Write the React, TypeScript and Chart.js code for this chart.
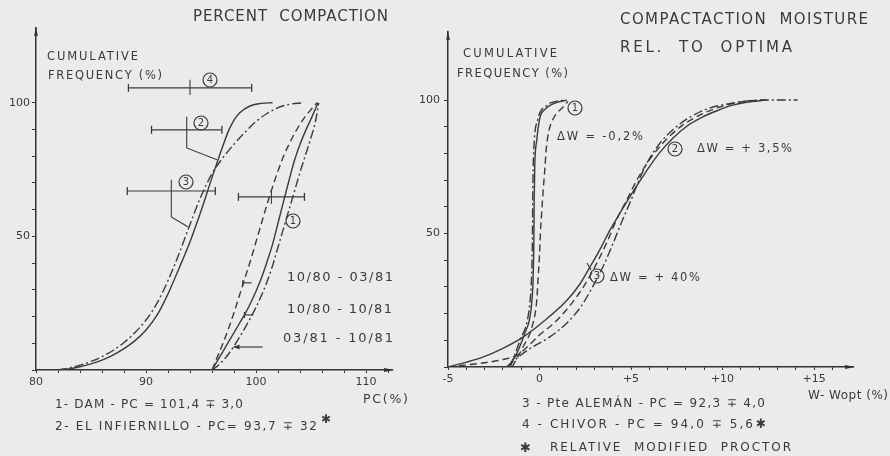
import { useEffect, useRef } from 'react';
import { Chart, registerables } from 'chart.js';
Chart.register(...registerables);

type Pt = [number, number];

// ================= LEFT PANEL: percent compaction PC (%) vs cumulative frequency (%)
const pcTickValues = [80, 82, 84, 86, 88, 90, 92, 94, 96, 98, 100, 102, 104, 106, 108, 110, 112];
const pcLabelled = [80, 90, 100, 110];
const freqTickValues = [0, 10, 20, 30, 40, 50, 60, 70, 80, 90, 100];
const freqLabelled = [50, 100];

// sites 2-4 group
const sitesSolid: Pt[] = [
  [82.0, 0], [83.0, 0.4], [84.0, 1.2], [85.0, 2.3], [86.0, 3.7], [87.0, 5.6], [88.0, 8.0],
  [89.0, 11.0], [90.0, 15.0], [91.0, 20.5], [92.0, 28.5], [93.0, 38], [94.0, 48], [95.0, 59.5],
  [96.0, 72], [97.0, 84], [97.5, 89.5], [98.0, 93.5], [98.5, 96.2], [99.5, 98.9], [100.5, 99.8],
  [101.5, 100],
];
const sitesDashDot: Pt[] = [
  [82.0, 0], [83.0, 0.8], [84.0, 1.8], [85.0, 3.2], [86.0, 5.0], [87.0, 7.3], [88.0, 10.3],
  [89.0, 14.0], [90.0, 18.7], [91.0, 25.0], [92.0, 33.5], [93.0, 43.5], [94.0, 54.5], [95.0, 65],
  [96.0, 73.5], [97.0, 79.5], [98.0, 84.5], [99.0, 89], [100.0, 93], [101.0, 96], [102.0, 98.2],
  [103.0, 99.4], [104.3, 100],
];
// dam, three periods
const dam_1080_0381: Pt[] = [
  [96.0, 0], [96.5, 5], [97.0, 10], [97.5, 15.5], [98.0, 21.5], [98.5, 28], [99.0, 34.5],
  [99.5, 41], [100.0, 48], [100.5, 55], [101.0, 62], [101.5, 68.5], [102.0, 74.5], [102.5, 80],
  [103.0, 84.5], [103.5, 88.5], [104.0, 92], [104.5, 95], [105.0, 97.5], [105.55, 100],
];
const dam_1080_1081: Pt[] = [
  [96.0, 0], [96.5, 3.5], [97.0, 7], [97.5, 10.5], [98.0, 14], [98.5, 17.5], [99.0, 21],
  [99.5, 25], [100.0, 29.5], [100.5, 34.5], [101.0, 40.5], [101.5, 47], [102.0, 55], [102.5, 63],
  [103.0, 71], [103.5, 78.5], [104.0, 84.5], [104.5, 89.5], [105.0, 94], [105.64, 100],
];
const dam_0381_1081: Pt[] = [
  [96.0, 0], [96.5, 1.5], [97.0, 3.5], [97.5, 6], [98.0, 9], [98.5, 12.3], [99.0, 15.8],
  [99.5, 19.5], [100.0, 23.5], [100.5, 28], [101.0, 33], [101.5, 39], [102.0, 46], [102.5, 53],
  [103.0, 60], [103.5, 67], [104.0, 74], [104.5, 80.5], [105.0, 87], [105.4, 93], [105.7, 100],
];

const siteNumbers = ['1', '2', '3', '4'];
const pcMean = [101.4, 93.7, 92.3, 94.0];
const pcStd = [3.0, 3.2, 4.0, 5.6];
const periodLabels = ['10/80 - 03/81', '10/80 - 10/81', '03/81 - 10/81'];

// ================= RIGHT PANEL: W - Wopt (%) vs cumulative frequency (%)
const dwTickValues = [-5, -4, -3, -2, -1, 0, 1, 2, 3, 4, 5, 6, 7, 8, 9, 10, 11, 12, 13, 14, 15, 16];
const dwLabelled = [-5, 0, 5, 10, 15];

const steepSolid: Pt[] = [
  [-1.72, 0], [-1.23, 5.2], [-0.8, 12.7], [-0.52, 18.7], [-0.4, 26], [-0.35, 32.6], [-0.32, 42],
  [-0.305, 50], [-0.29, 62.5], [-0.26, 75], [-0.15, 85], [0.03, 93.6], [0.3, 96.5], [0.57, 98],
  [1.0, 99.2], [1.5, 100],
];
const steepDashed: Pt[] = [
  [-1.5, 0], [-0.9, 7.5], [-0.35, 16.5], [-0.15, 25], [-0.08, 33], [0.0, 42], [0.05, 50],
  [0.12, 58], [0.2, 66], [0.3, 75], [0.36, 81], [0.5, 88], [0.75, 93], [1.3, 97.5], [1.55, 99.5],
];
const steepDashDot: Pt[] = [
  [-1.6, 0], [-1.07, 10], [-0.6, 20], [-0.46, 30], [-0.41, 39], [-0.385, 50], [-0.365, 66],
  [-0.33, 78.6], [-0.1, 92.5], [0.4, 98], [0.9, 99.5], [1.4, 100],
];
const broadSolid: Pt[] = [
  [-5, 0], [-4, 1.8], [-3.1, 3.7], [-2, 7], [-0.9, 11.2], [0.3, 17.5], [1.5, 25], [2.2, 31],
  [2.76, 37.5], [3.3, 44], [3.85, 51.3], [4.4, 57.7], [5.0, 64.5], [5.5, 69.8], [6.0, 75.0],
  [6.6, 80.6], [7.3, 85.8], [8.05, 90.2], [8.9, 93.6], [9.7, 96], [10.5, 98], [11.3, 99.2], [12.4, 100],
];
const broadDashed: Pt[] = [
  [-5, 0], [-4, 0.8], [-3, 1.6], [-2, 2.8], [-1.2, 4.5], [-0.6, 8], [0.0, 12], [0.8, 16.5],
  [1.6, 22.5], [2.4, 30], [3.1, 38.5], [3.7, 47], [4.2, 55], [4.8, 63], [5.4, 71], [6.1, 78.5],
  [6.9, 85], [7.8, 90.5], [8.8, 94.5], [9.8, 97.3], [11, 99.3], [12.2, 100],
];
const broadDashDot: Pt[] = [
  [-1.8, 0], [-1.2, 3.5], [-0.5, 7], [0.5, 11], [1.5, 16.5], [2.3, 23], [2.9, 30], [3.5, 38],
  [4.0, 46], [4.5, 54.5], [5.0, 62.5], [5.5, 71], [6.0, 78], [6.6, 84], [7.3, 89], [8.2, 93.5],
  [9.2, 96.8], [10.5, 98.8], [12, 100], [14.1, 100],
];

// ================= layout / styling (not data)
const FONT = '"DejaVu Sans", sans-serif';
const INK = '#3a3a3a';
const AXIS = '#333333';
const BG = '#ebebeb';
const DASHED = [7, 4];
const DASHDOT = [9, 3, 2, 3];

const rangeBarLevel = [64.8, 89.9, 67.0, 105.6];
const rangeTick: Pt[] = [[67.4, 62.2], [94.8, 83.1], [71.2, 57.3], [108.6, 102.9]];
const leaderEnds: (Pt | null)[] = [null, [96.45, 78.7], [93.8, 53.6], null];
const periodMarkLevel = [32.6, 20.6, 8.6];
const periodMarkSpan: Pt[] = [[98.8, 99.6], [98.95, 99.75], [97.95, 100.6]];

type TextItem = { t: string; x: number; y: number; w: number; s: number };
type Circ = { n: string; x: number; y: number };

const leftTexts: TextItem[] = [
  { t: 'PERCENT  COMPACTION', x: 193, y: 16, w: 195, s: 15 },
  { t: 'CUMULATIVE', x: 47, y: 56, w: 91, s: 11.5 },
  { t: 'FREQUENCY (%)', x: 48, y: 74.5, w: 114, s: 11.5 },
  { t: 'PC(%)', x: 363, y: 398, w: 45, s: 12.5 },
  { t: '1- DAM - PC = 101,4 ∓ 3,0', x: 55, y: 404, w: 188, s: 12 },
  { t: '2- EL INFIERNILLO - PC= 93,7 ∓ 32', x: 55, y: 426, w: 262, s: 12 },
  { t: '✱', x: 321, y: 419, w: 10, s: 12 },
  { t: periodLabels[0], x: 287, y: 276, w: 106, s: 13 },
  { t: periodLabels[1], x: 287, y: 308, w: 105, s: 13 },
  { t: periodLabels[2], x: 283, y: 337, w: 110, s: 13 },
];
const leftCircles: Circ[] = [
  { n: siteNumbers[0], x: 293, y: 221 },
  { n: siteNumbers[1], x: 201, y: 123 },
  { n: siteNumbers[2], x: 186, y: 182 },
  { n: siteNumbers[3], x: 210, y: 80 },
];
const rightTexts: TextItem[] = [
  { t: 'COMPACTACTION  MOISTURE', x: 620, y: 18.5, w: 248, s: 15 },
  { t: 'REL.  TO  OPTIMA', x: 620, y: 47, w: 172, s: 15 },
  { t: 'CUMULATIVE', x: 463, y: 53, w: 94, s: 11.5 },
  { t: 'FREQUENCY (%)', x: 457, y: 73, w: 111, s: 11.5 },
  { t: 'W- Wopt (%)', x: 808, y: 395, w: 80, s: 12 },
  { t: '3 - Pte ALEMÁN - PC = 92,3 ∓ 4,0', x: 522, y: 403, w: 243, s: 12 },
  { t: '4 - CHIVOR - PC = 94,0 ∓ 5,6', x: 522, y: 424, w: 231, s: 12 },
  { t: '✱', x: 756, y: 423, w: 10, s: 13 },
  { t: '✱', x: 520, y: 447, w: 11, s: 13 },
  { t: 'RELATIVE  MODIFIED  PROCTOR', x: 550, y: 447, w: 241, s: 12 },
  { t: 'ΔW = -0,2%', x: 557, y: 136, w: 86, s: 11.5 },
  { t: 'ΔW = + 3,5%', x: 697, y: 148, w: 95, s: 11.5 },
  { t: 'ΔW = + 40%', x: 610, y: 277, w: 90, s: 11.5 },
];
const rightCircles: Circ[] = [
  { n: '1', x: 575, y: 108 },
  { n: '2', x: 675, y: 149 },
  { n: '3', x: 597, y: 276 },
];

function drawText(ctx: CanvasRenderingContext2D, it: TextItem) {
  ctx.save();
  ctx.fillStyle = INK;
  ctx.font = `${it.s}px ${FONT}`;
  (ctx as any).letterSpacing = '0px';
  ctx.textAlign = 'left';
  ctx.textBaseline = 'alphabetic';
  const w = ctx.measureText(it.t).width;
  const n = Array.from(it.t).length;
  const base = it.y + it.s * 0.365;
  if (w >= it.w || n < 2) {
    ctx.translate(it.x, base);
    ctx.scale(it.w / w, 1);
    ctx.fillText(it.t, 0, 0);
  } else {
    (ctx as any).letterSpacing = `${(it.w - w) / (n - 1)}px`;
    ctx.fillText(it.t, it.x, base);
  }
  ctx.restore();
}

function drawCircle(ctx: CanvasRenderingContext2D, c: Circ) {
  ctx.save();
  ctx.strokeStyle = INK;
  ctx.lineWidth = 1.2;
  ctx.beginPath();
  ctx.arc(c.x, c.y, 7, 0, Math.PI * 2);
  ctx.stroke();
  ctx.fillStyle = INK;
  ctx.font = `10px ${FONT}`;
  ctx.textAlign = 'center';
  ctx.textBaseline = 'middle';
  ctx.fillText(c.n, c.x, c.y + 0.5);
  ctx.restore();
}

function axisArrows(ctx: CanvasRenderingContext2D, a: { left: number; right: number; top: number; bottom: number }) {
  ctx.save();
  ctx.fillStyle = AXIS;
  ctx.beginPath();
  ctx.moveTo(a.left, a.top - 2);
  ctx.lineTo(a.left - 1.8, a.top + 8);
  ctx.lineTo(a.left + 1.8, a.top + 8);
  ctx.closePath();
  ctx.fill();
  ctx.beginPath();
  ctx.moveTo(a.right + 2, a.bottom);
  ctx.lineTo(a.right - 8, a.bottom - 2);
  ctx.lineTo(a.right - 8, a.bottom + 2);
  ctx.closePath();
  ctx.fill();
  ctx.restore();
}

const toXY = (pts: Pt[]) => pts.map(([x, y]) => ({ x, y }));

function curve(pts: Pt[], dash: number[]) {
  return {
    data: toXY(pts),
    showLine: true,
    borderColor: INK,
    borderWidth: 1.4,
    borderDash: dash,
    pointRadius: 0,
    cubicInterpolationMode: 'monotone',
  };
}

function xScale(min: number, max: number, tickValues: number[], labelled: number[], fmt: (v: number) => string) {
  return {
    type: 'linear' as const,
    min,
    max,
    afterBuildTicks: (s: any) => {
      s.ticks = tickValues.map((v) => ({ value: v }));
    },
    afterFit: (s: any) => {
      s.height = 20;
    },
    ticks: {
      autoSkip: false,
      maxRotation: 0,
      padding: 3,
      color: INK,
      font: { family: FONT, size: 11 },
      callback: (v: any) => (labelled.includes(Number(v)) ? fmt(Number(v)) : ''),
    },
    grid: { display: true, drawOnChartArea: false, drawTicks: true, tickLength: 3, color: AXIS, lineWidth: 1 },
    border: { display: true, color: AXIS, width: 1.5 },
  };
}

function yScale(max: number, pad: number) {
  return {
    type: 'linear' as const,
    min: 0,
    max,
    afterBuildTicks: (s: any) => {
      s.ticks = freqTickValues.map((v) => ({ value: v }));
    },
    afterFit: (s: any) => {
      s.width = 36;
    },
    ticks: {
      autoSkip: false,
      padding: pad,
      color: INK,
      font: { family: FONT, size: 11 },
      callback: (v: any) => (freqLabelled.includes(Number(v)) ? String(v) : ''),
    },
    grid: { display: true, drawOnChartArea: false, drawTicks: true, tickLength: 4, color: AXIS, lineWidth: 1 },
    border: { display: true, color: AXIS, width: 1.5 },
  };
}

export default function App() {
  const leftRef = useRef<HTMLCanvasElement>(null);
  const rightRef = useRef<HTMLCanvasElement>(null);

  useEffect(() => {
    document.body.style.margin = '0';

    // ---- left chart datasets
    const leftSets: any[] = [
      curve(sitesSolid, []),
      curve(sitesDashDot, DASHDOT),
      curve(dam_1080_0381, DASHED),
      curve(dam_1080_1081, []),
      curve(dam_0381_1081, DASHDOT),
    ];
    pcMean.forEach((m, i) => {
      leftSets.push({
        data: [
          { x: m - pcStd[i], y: rangeBarLevel[i] },
          { x: m + pcStd[i], y: rangeBarLevel[i] },
        ],
        showLine: true,
        borderColor: INK,
        borderWidth: 1.2,
        pointStyle: 'line',
        rotation: 90,
        pointRadius: 4,
        pointBorderWidth: 1.3,
        pointBorderColor: INK,
      });
      const lead: { x: number; y: number }[] = [
        { x: m, y: rangeTick[i][0] },
        { x: m, y: rangeTick[i][1] },
      ];
      const end = leaderEnds[i];
      if (end) lead.push({ x: end[0], y: end[1] });
      leftSets.push({
        data: lead,
        showLine: true,
        borderColor: INK,
        borderWidth: 1.1,
        pointRadius: 0,
        tension: 0,
      });
    });

    const leftPlugin = {
      id: 'leftDeco',
      afterDraw(chart: any) {
        const ctx = chart.ctx as CanvasRenderingContext2D;
        const xs = chart.scales.x;
        const ys = chart.scales.y;
        axisArrows(ctx, chart.chartArea);
        // period leader marks
        ctx.save();
        ctx.strokeStyle = INK;
        ctx.fillStyle = INK;
        ctx.lineWidth = 1.2;
        periodMarkLevel.forEach((lv, i) => {
          const y = ys.getPixelForValue(lv);
          const x0 = xs.getPixelForValue(periodMarkSpan[i][0]);
          const x1 = xs.getPixelForValue(periodMarkSpan[i][1]);
          ctx.beginPath();
          ctx.moveTo(x0, y);
          ctx.lineTo(x1, y);
          ctx.stroke();
          if (i < 2) {
            ctx.beginPath();
            ctx.moveTo(x0, y - 3);
            ctx.lineTo(x0, y + 3);
            ctx.stroke();
          } else {
            ctx.beginPath();
            ctx.moveTo(x0, y);
            ctx.lineTo(x0 + 6, y - 2.5);
            ctx.lineTo(x0 + 6, y + 2.5);
            ctx.closePath();
            ctx.fill();
          }
        });
        ctx.restore();
        leftTexts.forEach((t) => drawText(ctx, t));
        leftCircles.forEach((c) => drawCircle(ctx, c));
      },
    };

    const left = new Chart(leftRef.current!, {
      type: 'scatter',
      data: { datasets: leftSets },
      options: {
        animation: false,
        responsive: false,
        devicePixelRatio: 1,
        layout: { padding: { left: 0, right: 498, top: 28, bottom: 66 } },
        plugins: { legend: { display: false }, tooltip: { enabled: false } },
        scales: {
          x: xScale(80, 112.36, pcTickValues, pcLabelled, (v) => String(v)),
          y: yScale(128, 2),
        },
      } as any,
      plugins: [leftPlugin],
    });

    // ---- right chart
    const rightSets: any[] = [
      curve(steepSolid, []),
      curve(steepDashed, DASHED),
      curve(steepDashDot, DASHDOT),
      curve(broadSolid, []),
      curve(broadDashed, DASHED),
      curve(broadDashDot, DASHDOT),
    ];
    const rightPlugin = {
      id: 'rightDeco',
      afterDraw(chart: any) {
        const ctx = chart.ctx as CanvasRenderingContext2D;
        axisArrows(ctx, chart.chartArea);
        ctx.save();
        ctx.strokeStyle = INK;
        ctx.lineWidth = 1.1;
        ctx.beginPath();
        ctx.moveTo(591, 270);
        ctx.lineTo(587, 263);
        ctx.stroke();
        ctx.restore();
        rightTexts.forEach((t) => drawText(ctx, t));
        rightCircles.forEach((c) => drawCircle(ctx, c));
      },
    };
    const right = new Chart(rightRef.current!, {
      type: 'scatter',
      data: { datasets: rightSets },
      options: {
        animation: false,
        responsive: false,
        devicePixelRatio: 1,
        layout: { padding: { left: 412, right: 37, top: 32, bottom: 69 } },
        plugins: { legend: { display: false }, tooltip: { enabled: false } },
        scales: {
          x: xScale(-5, 17.13, dwTickValues, dwLabelled, (v) => (v > 0 ? `+${v}` : String(v))),
          y: yScale(125.5, 4),
        },
      } as any,
      plugins: [rightPlugin],
    });

    return () => {
      left.destroy();
      right.destroy();
    };
  }, []);

  const canvasStyle: React.CSSProperties = { position: 'absolute', left: 0, top: 0 };
  return (
    <div style={{ position: 'absolute', left: 0, top: 0, width: 890, height: 456, background: BG, overflow: 'hidden' }}>
      <canvas ref={leftRef} width={890} height={456} style={canvasStyle} />
      <canvas ref={rightRef} width={890} height={456} style={canvasStyle} />
    </div>
  );
}
